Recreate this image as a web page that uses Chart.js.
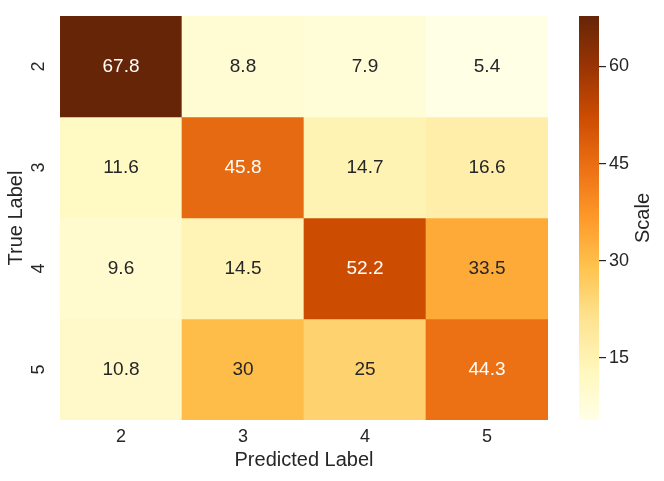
<!DOCTYPE html>
<html><head><meta charset="utf-8">
<script src="https://cdn.jsdelivr.net/npm/chart.js@4.4.1/dist/chart.umd.min.js"></script>
<style>
html,body{margin:0;padding:0;background:#fff;width:664px;height:481px;overflow:hidden}
#heat{position:absolute;left:0;top:0}
#cbar{position:absolute;left:560px;top:0}
</style></head><body>
<canvas id="heat" width="560" height="481"></canvas>
<canvas id="cbar" width="104" height="481"></canvas>
<script>
// ---- data ----
const predictedLabels = ['2', '3', '4', '5'];
const trueLabels = ['2', '3', '4', '5'];
const row2 = [67.8, 8.8, 7.9, 5.4];
const row3 = [11.6, 45.8, 14.7, 16.6];
const row4 = [9.6, 14.5, 52.2, 33.5];
const row5 = [10.8, 30, 25, 44.3];
const colorbarTicks = [15, 30, 45, 60];
const vmin = 5.4;
const vmax = 67.8;
const xTitle = 'Predicted Label';
const yTitle = 'True Label';
const cbarTitle = 'Scale';

const rows = [row2, row3, row4, row5];
const FAMILY = "'Liberation Sans', Arial, sans-serif";
const DARK = '#262626';
Chart.defaults.font.family = FAMILY;
Chart.defaults.color = DARK;

// YlOrBr colormap
const YlOrBr = ['#ffffe5','#fff7bc','#fee391','#fec44f','#fe9929','#ec7014','#cc4c02','#993404','#662506'];
function hexToRgb(h){return [parseInt(h.slice(1,3),16),parseInt(h.slice(3,5),16),parseInt(h.slice(5,7),16)];}
function cmap(t){
  t = Math.max(0, Math.min(1, t));
  const n = YlOrBr.length - 1, p = t * n;
  const i = Math.min(Math.floor(p), n - 1), f = p - i;
  const a = hexToRgb(YlOrBr[i]), b = hexToRgb(YlOrBr[i + 1]);
  return a.map((v, k) => Math.round(v + (b[k] - v) * f));
}
function rgbStr(c){return 'rgb(' + c.join(',') + ')';}
function colorFor(v){return cmap((v - vmin) / (vmax - vmin));}
function lum(c){
  const l = c.map(x => { x /= 255; return x <= 0.03928 ? x / 12.92 : Math.pow((x + 0.055) / 1.055, 2.4); });
  return 0.2126 * l[0] + 0.7152 * l[1] + 0.0722 * l[2];
}

const datasets = rows.map((vals, i) => ({
  label: trueLabels[i],
  data: vals.map(() => [i, i + 1]),
  values: vals,
  backgroundColor: vals.map(v => rgbStr(colorFor(v))),
  borderWidth: 0,
  barPercentage: 1,
  categoryPercentage: 1,
  grouped: false
}));

const annotPlugin = {
  id: 'annot',
  afterDatasetsDraw(chart) {
    const ctx = chart.ctx;
    ctx.save();
    ctx.font = '19px ' + FAMILY;
    ctx.textAlign = 'center';
    ctx.textBaseline = 'middle';
    chart.data.datasets.forEach((ds, i) => {
      const meta = chart.getDatasetMeta(i);
      meta.data.forEach((el, j) => {
        const v = ds.values[j];
        const c = colorFor(v);
        ctx.fillStyle = lum(c) > 0.408 ? DARK : '#ffffff';
        const p = el.getCenterPoint();
        ctx.fillText(String(v), p.x, p.y);
      });
    });
    // rotated y tick labels
    const ys = chart.scales.yl;
    ctx.fillStyle = DARK;
    ctx.font = '18px ' + FAMILY;
    trueLabels.forEach((lab, k) => {
      const py = ys.getPixelForValue(k);
      ctx.save();
      ctx.translate(39.5, py);
      ctx.rotate(-Math.PI / 2);
      ctx.fillText(lab, 0, 0);
      ctx.restore();
    });
    ctx.restore();
  }
};

new Chart(document.getElementById('heat'), {
  type: 'bar',
  data: { labels: predictedLabels, datasets },
  options: {
    responsive: false,
    animation: false,
    events: [],
    layout: { padding: { top: 16, right: 12, left: 0, bottom: 0 } },
    plugins: { legend: { display: false }, tooltip: { enabled: false } },
    scales: {
      x: {
        type: 'category',
        grid: { display: false, drawTicks: false },
        border: { display: false },
        ticks: { color: DARK, font: { size: 18 }, padding: 6 },
        title: { display: true, text: xTitle, color: DARK, font: { size: 20 }, padding: { top: 0, bottom: 9 } },
        afterFit: s => { s.height = 61; }
      },
      y: { type: 'linear', min: 0, max: 4, reverse: true, display: false },
      yl: {
        type: 'category',
        labels: trueLabels,
        position: 'left',
        offset: true,
        grid: { display: false, drawTicks: false },
        border: { display: false },
        ticks: { display: false },
        title: { display: true, text: yTitle, color: DARK, font: { size: 20 }, padding: { top: 4, bottom: 0 } },
        afterFit: s => { s.width = 60; }
      }
    }
  },
  plugins: [annotPlugin]
});

// ---- colorbar ----
function gradientFill(context) {
  const chart = context.chart;
  const ca = chart.chartArea;
  if (!ca) return null;
  const y = chart.scales.y;
  const g = chart.ctx.createLinearGradient(0, y.getPixelForValue(vmin), 0, y.getPixelForValue(vmax));
  const N = 40;
  for (let k = 0; k <= N; k++) g.addColorStop(k / N, rgbStr(cmap(k / N)));
  return g;
}
const cbarTitlePlugin = {
  id: 'cbarTitle',
  afterDraw(chart) {
    const ctx = chart.ctx, ca = chart.chartArea;
    ctx.save();
    ctx.fillStyle = DARK;
    ctx.font = '20px ' + FAMILY;
    ctx.textAlign = 'center';
    ctx.textBaseline = 'middle';
    ctx.translate(83, (ca.top + ca.bottom) / 2);
    ctx.rotate(-Math.PI / 2);
    ctx.fillText(cbarTitle, 0, 0);
    ctx.restore();
  }
};
new Chart(document.getElementById('cbar'), {
  type: 'bar',
  data: { labels: [cbarTitle], datasets: [{ data: [[vmin, vmax]], backgroundColor: gradientFill, borderWidth: 0, barPercentage: 1, categoryPercentage: 1 }] },
  options: {
    responsive: false,
    animation: false,
    events: [],
    layout: { padding: { left: 19, top: 16, bottom: 61, right: 0 } },
    plugins: { legend: { display: false }, tooltip: { enabled: false } },
    scales: {
      x: { display: false },
      y: {
        position: 'right',
        min: vmin,
        max: vmax,
        afterBuildTicks: s => { s.ticks = colorbarTicks.map(v => ({ value: v })); },
        afterFit: s => { s.width = 65; },
        grid: { drawOnChartArea: false, drawTicks: true, tickLength: 7, color: DARK, lineWidth: 1.2 },
        border: { display: false },
        ticks: { padding: 3, color: DARK, font: { size: 18 } }
      }
    }
  },
  plugins: [cbarTitlePlugin]
});
</script>
</body></html>
